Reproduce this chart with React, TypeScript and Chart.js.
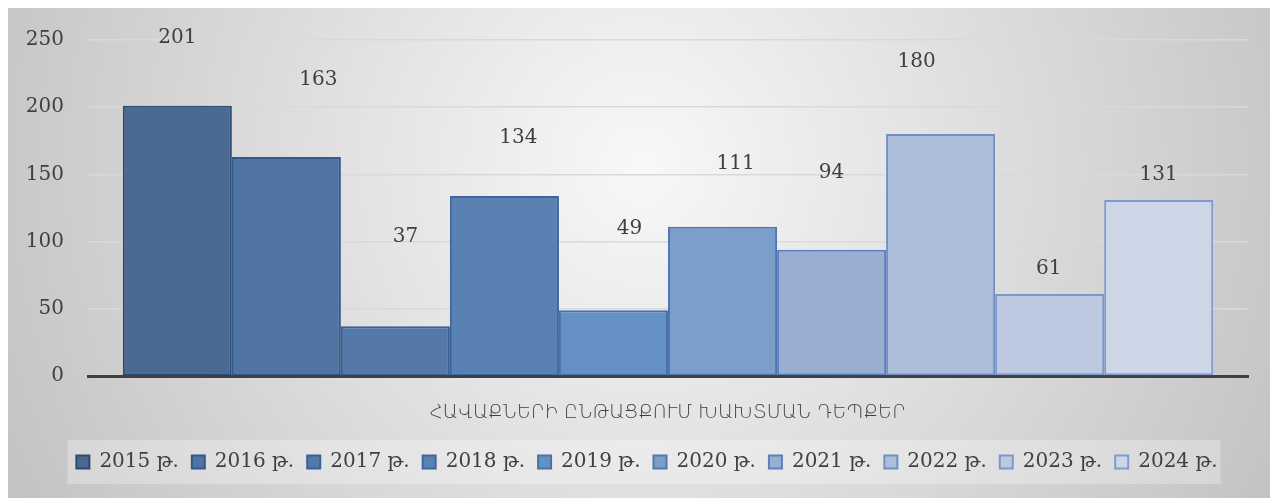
import React, { useEffect, useRef } from "react";
import { Chart, registerables } from "chart.js";

Chart.register(...registerables);

const categories = ["ՀԱՎԱՔՆԵՐԻ ԸՆԹԱՑՔՈՒՄ ԽԱԽՏՄԱՆ ԴԵՊՔԵՐ"];
const years = ["2015 թ.", "2016 թ.", "2017 թ.", "2018 թ.", "2019 թ.", "2020 թ.", "2021 թ.", "2022 թ.", "2023 թ.", "2024 թ."];
const values = [201, 163, 37, 134, 49, 111, 94, 180, 61, 131];
const yTickMax = 250;
const yTickStep = 50;

// styles
const fills = ["#4b6a91", "#5074a2", "#5479a9", "#5a81b3", "#6590c4", "#7b9eca", "#9aaed1", "#adbedb", "#bdc9e0", "#cdd6e6"];
const borders = ["#2c4b74", "#34588a", "#3a5f92", "#3f659d", "#4a72aa", "#4f77b2", "#5b80bd", "#6f8fc6", "#7b98cd", "#7f9bd0"];
// data-label offsets in pixels relative to top-centre of each bar
const labelDx = [0, 32, 10, 14, 16, 13, 0, -24, -1, 0];
const labelDy = [-68, -77, -89, -58, -81, -63, -77, -72, -25, -25];
const LEGEND_SHIFT = 19;

const SERIF = "'DejaVu Serif', 'Liberation Serif', serif";

const bgPlugin = {
  id: "bgPlugin",
  afterLayout(chart: any) {
    const lg = chart.legend;
    if (lg) {
      lg.left += LEGEND_SHIFT;
      lg.right += LEGEND_SHIFT;
    }
  },
  beforeDraw(chart: any) {
    const { ctx, width, height } = chart;
    ctx.save();
    const cx = width * 0.5;
    const cy = height * 0.32;
    const g = ctx.createRadialGradient(cx, cy, 0, cx, cy, width * 0.56);
    g.addColorStop(0, "#f8f8f8");
    g.addColorStop(1, "#c3c3c3");
    ctx.fillStyle = g;
    ctx.fillRect(0, 0, width, height);
    const lg = chart.legend;
    if (lg && lg.legendHitBoxes && lg.legendHitBoxes.length) {
      const hb = lg.legendHitBoxes;
      const left = hb[0].left - 9;
      const last = hb[hb.length - 1];
      const right = last.left + last.width + 3;
      const midY = hb[0].top + hb[0].height / 2;
      ctx.fillStyle = "rgba(255,255,255,0.28)";
      ctx.fillRect(left, midY - 22, right - left, 44);
    }
    ctx.restore();
  },
};

const labelPlugin = {
  id: "labelPlugin",
  afterDatasetsDraw(chart: any) {
    const { ctx } = chart;
    ctx.save();
    ctx.font = `20px ${SERIF}`;
    ctx.fillStyle = "#404040";
    ctx.textAlign = "center";
    ctx.textBaseline = "middle";
    chart.data.datasets.forEach((ds: any, i: number) => {
      const el = chart.getDatasetMeta(i).data[0];
      if (!el) return;
      ctx.fillText(String(ds.data[0]), el.x + labelDx[i], el.y + labelDy[i]);
    });
    ctx.restore();
  },
};

export default function App() {
  const ref = useRef<HTMLCanvasElement>(null);
  useEffect(() => {
    if (!ref.current) return;
    const chart = new Chart(ref.current, {
      type: "bar",
      data: {
        labels: categories,
        datasets: years.map((y, i) => ({
          label: y,
          data: [values[i]],
          backgroundColor: fills[i],
          borderColor: borders[i],
          borderWidth: 2,
          borderSkipped: false,
        })),
      },
      options: {
        animation: false,
        responsive: true,
        maintainAspectRatio: false,
        layout: { autoPadding: false, padding: { top: 32, right: 28, bottom: 16, left: 0 } },
        datasets: { bar: { categoryPercentage: 0.94, barPercentage: 1 } },
        plugins: {
          legend: {
            position: "bottom",
            labels: {
              boxWidth: 13,
              boxHeight: 13,
              padding: 13,
              color: "#404040",
              font: { family: SERIF, size: 20 },
            },
          },
          tooltip: { enabled: false },
        },
        scales: {
          x: {
            grid: { display: false, drawTicks: false },
            border: { display: true, color: "#404040", width: 3 },
            ticks: {
              color: "#404040",
              padding: 26,
              font: { family: "'DejaVu Sans', sans-serif", size: 19, weight: 300 },
            },
            afterFit(scale: any) {
              scale.height = 63;
            },
          },
          y: {
            min: 0,
            max: yTickMax,
            grid: { color: "#d9d9d9", lineWidth: 1.5, drawTicks: false },
            border: { display: false },
            ticks: {
              stepSize: yTickStep,
              color: "#404040",
              padding: 24,
              font: { family: SERIF, size: 20 },
            },
            afterFit(scale: any) {
              scale.width = 80;
              scale.paddingTop = 0;
              scale.paddingBottom = 0;
            },
          },
        },
      },
      plugins: [bgPlugin, labelPlugin],
    });
    return () => chart.destroy();
  }, []);
  return (
    <div style={{ width: 1268, height: 490, position: "relative" }}>
      <canvas ref={ref} />
    </div>
  );
}
